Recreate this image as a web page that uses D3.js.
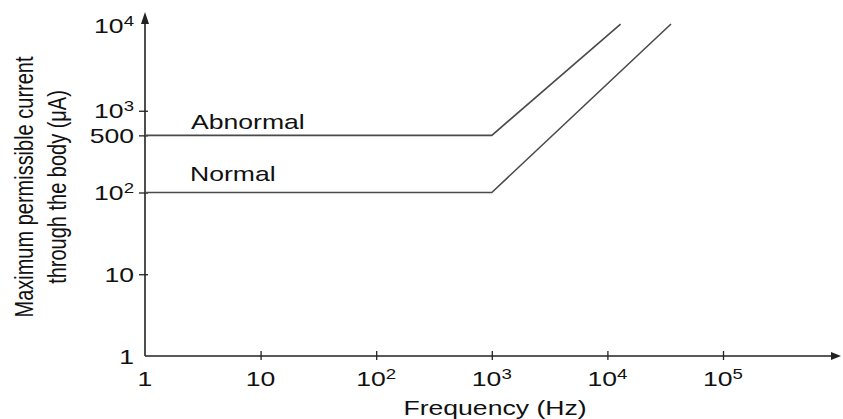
<!DOCTYPE html>
<html><head><meta charset="utf-8">
<script src="https://cdn.jsdelivr.net/npm/d3@7"></script>
<style>body{margin:0;background:#fff} svg text{font-family:"Liberation Sans",Arial,Helvetica,sans-serif;fill:#111}</style>
</head><body>
<svg id="c" width="843" height="419"></svg>
<script>
// ---- data ----
const xTickValues = [1, 10, 100, 1000, 10000, 100000];
const xTickLabels = ["1", "10", "10^2", "10^3", "10^4", "10^5"];
const yTickValues = [1, 10, 100, 500, 1000, 10000];
const yTickLabels = ["1", "10", "10^2", "500", "10^3", "10^4"];
const seriesNames = ["Abnormal", "Normal"];
const abnormalFreq = [1, 1000, 13000];
const abnormalCurrent = [500, 500, 11500];
const normalFreq = [1, 1000, 35500];
const normalCurrent = [100, 100, 11500];
const xTitle = "Frequency (Hz)";
const yTitleLines = ["Maximum permissible current", "through the body (\u03BCA)"];

// ---- layout ----
const svg = d3.select("#c");
const x = d3.scaleLog().domain([1, 1e5]).range([145, 723]);
const y = d3.scaleLog().domain([1, 1e4]).range([356, 29]);
const SX = 1.33;          // horizontal stretch of the original typography
const FS = 20;
const axisColor = "#222";
const lineColor = "#4a4a4a";
const x0 = x(1), y0 = y(1);

function label(px, py, str, anchor, extra) {
  const g = svg.append("g").attr("transform", `translate(${px},${py}) scale(${SX},1)` + (extra || ""));
  const t = g.append("text").attr("text-anchor", anchor).attr("font-size", FS);
  const parts = str.split("^");
  t.append("tspan").text(parts[0]);
  if (parts.length > 1) {
    t.append("tspan").attr("font-size", 14).attr("dy", -7).text(parts[1]);
  }
  return t;
}

// ---- axes (ticks through d3 axes) ----
const xg = svg.append("g").attr("transform", `translate(0,${y0})`)
  .call(d3.axisBottom(x).tickValues(xTickValues.slice(1)).tickFormat("").tickSizeOuter(0));
xg.select(".domain").remove();
xg.selectAll(".tick line").attr("y1", -5).attr("y2", 4).attr("stroke", axisColor).attr("stroke-width", 1.3);

const yTickMarks = yTickValues.filter(v => v > 1 && v < 10000);
const yg = svg.append("g").attr("transform", `translate(${x0},0)`)
  .call(d3.axisLeft(y).tickValues(yTickMarks).tickFormat("").tickSizeOuter(0));
yg.select(".domain").remove();
yg.selectAll(".tick line").attr("x1", 3).attr("x2", -6).attr("stroke", axisColor).attr("stroke-width", 1.3);

// axis lines with arrows
svg.append("line").attr("x1", x0).attr("y1", y0).attr("x2", 836).attr("y2", y0)
  .attr("stroke", axisColor).attr("stroke-width", 1.6);
svg.append("path").attr("d", `M841,${y0} L831,${y0 - 4} L831,${y0 + 4} Z`).attr("fill", axisColor);
svg.append("line").attr("x1", x0).attr("y1", y0).attr("x2", x0).attr("y2", 20)
  .attr("stroke", axisColor).attr("stroke-width", 1.6);
svg.append("path").attr("d", `M${x0},12 L${x0 - 4},24 L${x0 + 4},24 Z`).attr("fill", axisColor);

// tick labels
xTickValues.forEach((v, i) => label(x(v), 386, xTickLabels[i], "middle"));
yTickValues.forEach((v, i) => {
  let py = y(v) + 7.5;
  if (v === 10000) py -= 4;
  label(134, py, yTickLabels[i], "end");
});

// titles
label(495, 415, xTitle, "middle");
label(33, 187, yTitleLines[0], "middle", " rotate(-90)");
label(66, 187, yTitleLines[1], "middle", " rotate(-90)");

// ---- series ----
const lineGen = d3.line().x(d => x(d[0])).y(d => y(d[1]));
const series = [
  { name: seriesNames[0], pts: abnormalFreq.map((f, i) => [f, abnormalCurrent[i]]) },
  { name: seriesNames[1], pts: normalFreq.map((f, i) => [f, normalCurrent[i]]) }
];
series.forEach(s => {
  svg.append("path").attr("d", lineGen(s.pts)).attr("fill", "none")
    .attr("stroke", lineColor).attr("stroke-width", 1.6);
});
label(191, 129, seriesNames[0], "start");
label(190, 181, seriesNames[1], "start");
</script>
</body></html>
